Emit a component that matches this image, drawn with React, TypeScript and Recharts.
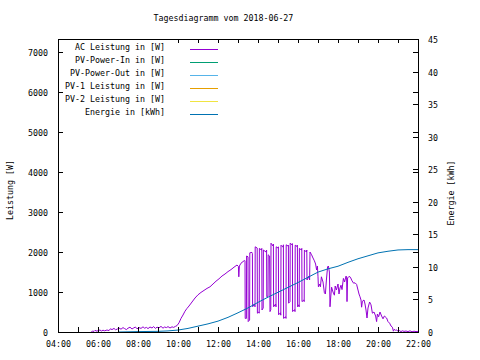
import { LineChart, Line, XAxis, YAxis, ReferenceArea, Legend } from "recharts";

// axis ticks
const hourTicks = [4, 5, 6, 7, 8, 9, 10, 11, 12, 13, 14, 15, 16, 17, 18, 19, 20, 21, 22];
const powerTicks = [0, 1000, 2000, 3000, 4000, 5000, 6000, 7000];
const energyTicks = [0, 5, 10, 15, 20, 25, 30, 35, 40, 45];

// AC Leistung [W], time in hours
const acTime = [
  5.67, 5.72, 5.8, 5.85, 5.95, 6.0, 6.1, 6.17, 6.25, 6.33, 6.45, 6.55, 6.62, 6.7, 6.8, 6.88, 6.97,
  7.05, 7.15, 7.25, 7.33, 7.42, 7.5, 7.6, 7.7, 7.78, 7.87, 7.95, 8.05, 8.15, 8.25, 8.33, 8.42, 8.5,
  8.6, 8.7, 8.78, 8.87, 8.95, 9.05, 9.15, 9.25, 9.33, 9.42, 9.5, 9.6, 9.7, 9.78, 9.87, 9.95,
  10.05, 10.15, 10.25, 10.35, 10.45, 10.55, 10.7, 10.85, 11.0, 11.15, 11.3, 11.45, 11.6, 11.75,
  11.9, 12.05, 12.2, 12.35, 12.5, 12.65, 12.8, 12.95, 13.02, 13.04, 13.07, 13.15, 13.25, 13.33,
  13.35, 13.36, 13.42, 13.43, 13.5, 13.51, 13.58, 13.59, 13.7, 13.72, 13.73, 13.82, 13.85, 13.86,
  13.96, 13.97, 14.04, 14.06, 14.07, 14.17, 14.19, 14.2, 14.26, 14.27, 14.4, 14.43, 14.44, 14.5,
  14.51, 14.58, 14.6, 14.64, 14.65, 14.75, 14.77, 14.78, 14.88, 14.9, 14.91, 15.0, 15.02, 15.03,
  15.12, 15.14, 15.15, 15.25, 15.27, 15.28, 15.38, 15.4, 15.41, 15.5, 15.52, 15.53, 15.6, 15.61,
  15.7, 15.72, 15.73, 15.83, 15.85, 15.86, 15.95, 15.97, 15.98, 16.04, 16.06, 16.07, 16.17, 16.19,
  16.2, 16.29, 16.31, 16.32, 16.42, 16.44, 16.45, 16.55, 16.58, 16.6, 16.68, 16.75, 16.82, 16.88,
  16.93, 16.97, 17.0, 17.02, 17.08, 17.12, 17.17, 17.25, 17.32, 17.37, 17.42, 17.48, 17.52, 17.57,
  17.6, 17.64, 17.68, 17.75, 17.82, 17.86, 17.92, 18.0, 18.05, 18.1, 18.15, 18.2, 18.27, 18.33,
  18.4, 18.43, 18.45, 18.48, 18.55, 18.62, 18.7, 18.78, 18.85, 18.93, 19.0, 19.05, 19.1, 19.15,
  19.18, 19.22, 19.3, 19.35, 19.4, 19.45, 19.5, 19.58, 19.65, 19.72, 19.8, 19.88, 19.93, 19.97,
  20.03, 20.1, 20.18, 20.25, 20.32, 20.43, 20.5, 20.58, 20.65, 20.72, 20.77, 20.82, 20.88, 20.93,
  21.0, 21.07, 21.15, 21.22, 21.3, 21.4, 21.5, 21.6, 21.7, 21.8, 21.9, 22.0,
];
const acPower = [
  0, 25, 15, 40, 20, 35, 50, 25, 45, 30, 50, 35, 80, 60, 90, 55, 75,
  100, 70, 110, 85, 60, 95, 120, 75, 100, 125, 80, 110, 90, 130, 95, 115, 85,
  125, 100, 135, 90, 120, 105, 140, 95, 125, 110, 135, 100, 130, 115, 140, 160,
  230, 340, 425, 520, 590, 650, 750, 850, 930, 990, 1040, 1090, 1130, 1200,
  1270, 1330, 1400, 1450, 1510, 1560, 1620, 1675, 1640, 1380, 1650, 1720, 1760, 1790,
  1780, 340, 340, 1900, 1880, 260, 300, 1980, 1990, 1960, 630, 700, 630, 2130,
  2100, 470, 500, 470, 2090, 2050, 2090, 550, 600, 2050, 2000, 2050, 880, 900,
  1930, 1900, 510, 560, 2220, 2150, 2200, 630, 700, 630, 2130, 2100, 2130, 430,
  480, 420, 2170, 2120, 2180, 340, 380, 340, 2180, 2150, 2170, 720, 760, 2220,
  2180, 2210, 510, 560, 510, 2170, 2140, 2170, 630, 680, 630, 2090, 2050, 2090,
  760, 800, 760, 2050, 2000, 2050, 1300, 1400, 1300, 2000, 1930, 1850, 1780, 1700,
  1550, 1650, 1380, 1130, 1200, 1130, 1380, 1250, 980, 950, 1300, 1630, 1650, 1500,
  630, 900, 1120, 1000, 920, 1150, 1050, 1200, 950, 1100, 1170, 1060, 1340, 1250,
  1400, 1380, 760, 1350, 1390, 1370, 1280, 1220, 1230, 1190, 1050, 950, 880, 800,
  620, 770, 800, 700, 550, 350, 600, 750, 680, 470, 500, 400, 260, 450,
  380, 500, 400, 330, 400, 350, 260, 220, 150, 120, 20, 70, 40, 50,
  20, 35, 10, 30, 15, 25, 10, 30, 5, 20, 10, 15,
];

// Energie [kWh]
const energyTime = [7, 7.5, 8, 8.5, 9, 9.5, 10, 10.5, 11, 11.5, 12, 12.5, 13, 13.5, 14, 14.5, 15, 15.5, 16, 16.5, 17, 17.5, 18, 18.5, 19, 19.5, 20, 20.5, 21, 21.5, 22];
const energyKwh = [0, 0.03, 0.06, 0.08, 0.1, 0.17, 0.3, 0.55, 0.9, 1.25, 1.67, 2.25, 2.95, 3.7, 4.55, 5.35, 6.1, 6.85, 7.6, 8.4, 9.2, 9.7, 10.1, 10.7, 11.25, 11.7, 12.15, 12.4, 12.6, 12.65, 12.65];

const legendNames = ["AC Leistung in [W]", "PV-Power-In in [W]", "PV-Power-Out in [W]", "PV-1 Leistung in [W]", "PV-2 Leistung in [W]", "Energie in [kWh]"];
const legendColors = ["#9400d3", "#009e73", "#56b4e9", "#e69f00", "#f0e442", "#0072b2"];

const acData = acTime.map((t, i) => ({ t, w: acPower[i] }));
const energyData = energyTime.map((t, i) => ({ t, e: energyKwh[i] }));

const L = 58;
const R = 418;
const T = 39;
const B = 332;
const font = { fontFamily: "'DejaVu Sans Mono', monospace", fontSize: 8.3, fill: "#000" };

const pad = (n: number) => (n < 10 ? "0" + n : "" + n);

const XTick = (p: any) => {
  const h = p.payload.value;
  const x = Math.round(p.x) + 0.5;
  return (
    <g>
      <line x1={x} x2={x} y1={B} y2={B - 5} stroke="#000" shapeRendering="crispEdges" />
      {h >= 10 && <line x1={x} x2={x} y1={T} y2={T + 4} stroke="#000" shapeRendering="crispEdges" />}
      {h % 2 === 0 && (
        <text x={x} y={347} textAnchor="middle" {...font}>
          {pad(h) + ":00"}
        </text>
      )}
    </g>
  );
};

const YTick = (p: any) => {
  const y = Math.round(p.y) + 0.5;
  return (
    <g>
      <line x1={L} x2={L + 5} y1={y} y2={y} stroke="#000" shapeRendering="crispEdges" />
      <line x1={R} x2={R - 5} y1={y} y2={y} stroke="#000" shapeRendering="crispEdges" />
      <text x={48} y={y + 3} textAnchor="end" {...font}>
        {p.payload.value}
      </text>
    </g>
  );
};

const Y2Tick = (p: any) => {
  const y = Math.round(p.y) + 0.5;
  return (
    <g>
      <line x1={R} x2={R - 5} y1={y} y2={y} stroke="#000" shapeRendering="crispEdges" />
      <text x={428} y={y + 3} textAnchor="start" {...font}>
        {p.payload.value}
      </text>
    </g>
  );
};

const KeyBox = () => (
  <svg width={240} height={130} style={{ pointerEvents: "none" }}>
    {legendNames.map((n, i) => (
      <g key={n}>
        <text x={165} y={49.5 + 13 * i} textAnchor="end" {...font}>
          {n}
        </text>
        <line x1={190} x2={218} y1={49.5 + 13 * i} y2={49.5 + 13 * i} stroke={legendColors[i]} strokeWidth={1} />
      </g>
    ))}
  </svg>
);

export default function App() {
  return (
    <div style={{ position: "absolute", left: 0, top: 0, width: 480, height: 360, background: "#fff" }}>
      <LineChart width={480} height={360} data={acData} margin={{ top: T, right: 480 - R - 1, bottom: 360 - B - 1, left: L - 1 }}>
        <XAxis
          dataKey="t"
          type="number"
          domain={[4, 22]}
          ticks={hourTicks}
          interval={0}
          height={1}
          axisLine={false}
          tickLine={false}
          tick={XTick}
          allowDataOverflow
          label={() => (
            <text x={153.5} y={20.5} textAnchor="start" {...font}>
              Tagesdiagramm vom 2018-06-27
            </text>
          )}
        />
        <YAxis
          yAxisId="left"
          type="number"
          domain={[0, 7325]}
          ticks={powerTicks}
          interval={0}
          width={1}
          axisLine={false}
          tickLine={false}
          tick={YTick}
          allowDataOverflow
          label={() => (
            <text x={13} y={190} textAnchor="middle" transform="rotate(-90 13 190)" {...font}>
              Leistung [W]
            </text>
          )}
        />
        <YAxis
          yAxisId="right"
          orientation="right"
          type="number"
          domain={[0, 45]}
          ticks={energyTicks}
          interval={0}
          width={1}
          axisLine={false}
          tickLine={false}
          tick={Y2Tick}
          allowDataOverflow
          label={() => (
            <text x={454} y={193} textAnchor="middle" transform="rotate(-90 454 193)" {...font}>
              Energie [kWh]
            </text>
          )}
        />
        <ReferenceArea
          yAxisId="left"
          x1={4}
          x2={22}
          y1={0}
          y2={7325}
          stroke="#000"
          strokeWidth={1}
          fill="none"
          ifOverflow="visible"
          shapeRendering="crispEdges"
        />
        <Legend
          layout="vertical"
          align="center"
          verticalAlign="middle"
          content={KeyBox}
          wrapperStyle={{ left: 0, top: 0, width: 240, height: 130 }}
        />
        <Line
          yAxisId="left"
          data={acData}
          dataKey="w"
          type="linear"
          stroke="#9400d3"
          strokeWidth={1}
          dot={false}
          isAnimationActive={false}
        />
        <Line
          yAxisId="right"
          data={energyData}
          dataKey="e"
          type="linear"
          stroke="#0072b2"
          strokeWidth={1}
          dot={false}
          isAnimationActive={false}
        />
      </LineChart>
    </div>
  );
}
